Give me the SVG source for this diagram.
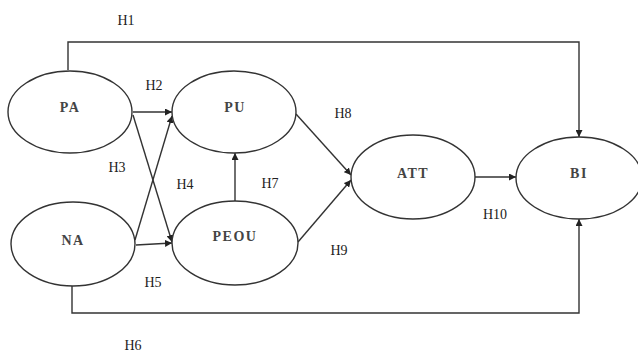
<svg xmlns="http://www.w3.org/2000/svg" width="638" height="354" viewBox="0 0 638 354">
<style>
.n ellipse{fill:#fff;stroke:#333;stroke-width:1.4}
.n text{font-family:"Liberation Serif",serif;font-size:14px;font-weight:bold;fill:#444;letter-spacing:1.5px;text-anchor:middle;dominant-baseline:central}
.c path{fill:none;stroke:#333;stroke-width:1.4;marker-end:url(#a)}
.l text{font-family:"Liberation Serif",serif;font-size:14px;fill:#222;text-anchor:middle;dominant-baseline:central}
</style>
<defs>
<marker id="a" viewBox="0 0 10 10" refX="10" refY="5" markerWidth="7" markerHeight="7" markerUnits="userSpaceOnUse" orient="auto">
<path d="M0,0L10,5L0,10z" fill="#222"/>
</marker>
</defs>
<rect width="638" height="354" fill="#fff"/>
<g class="c" id="connectors">
<path d="M68,70V42H579V137"/>
<path d="M72,286V313H579V219"/>
<path d="M133,112H172"/>
<path d="M133,115L172,242"/>
<path d="M135,240L172,116"/>
<path d="M136,245L172,243"/>
<path d="M235,202V153"/>
<path d="M296,114L351,175"/>
<path d="M298,242L351,180"/>
<path d="M475,177H516"/>
</g>
<g class="n" id="PA"><ellipse cx="70" cy="112" rx="62" ry="41"/><text x="70" y="107">PA</text></g>
<g class="n" id="PU"><ellipse cx="234" cy="112" rx="62" ry="41"/><text x="235" y="107">PU</text></g>
<g class="n" id="NA"><ellipse cx="73" cy="244" rx="62" ry="42"/><text x="73" y="240">NA</text></g>
<g class="n" id="PEOU"><ellipse cx="235" cy="243" rx="63" ry="42"/><text x="235" y="236">PEOU</text></g>
<g class="n" id="ATT"><ellipse cx="413" cy="177" rx="62" ry="42"/><text x="413" y="173">ATT</text></g>
<g class="n" id="BI"><ellipse cx="579" cy="178" rx="63" ry="41"/><text x="579" y="173">BI</text></g>
<g class="l" id="labels">
<text x="126" y="20">H1</text>
<text x="154" y="85">H2</text>
<text x="117" y="167">H3</text>
<text x="185" y="184">H4</text>
<text x="153" y="282">H5</text>
<text x="133" y="345">H6</text>
<text x="270" y="183">H7</text>
<text x="343" y="113">H8</text>
<text x="339" y="250">H9</text>
<text x="495" y="214">H10</text>
</g>
</svg>
